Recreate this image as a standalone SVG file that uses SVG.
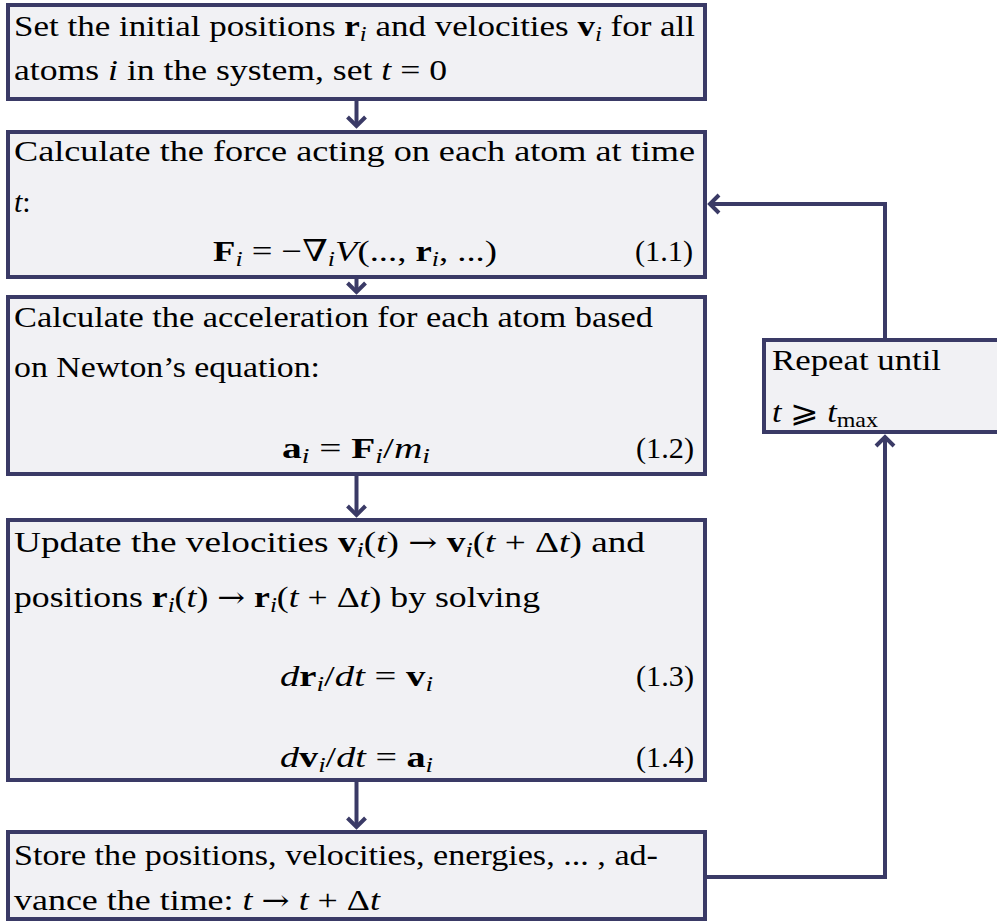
<svg xmlns="http://www.w3.org/2000/svg" width="997" height="922" viewBox="0 0 997 922">
<style>
.box{fill:#f1f1f4;stroke:#3a3a66;stroke-width:4}
.ln{fill:none;stroke:#3a3a66;stroke-width:4}
.ah{fill:none;stroke:#3a3a66;stroke-width:4;stroke-linejoin:miter}
text{font-family:"Liberation Serif","DejaVu Serif",serif;font-size:30px;fill:#000}
.b{font-weight:bold}
.i{font-style:italic}
.s{font-size:21px}
.ar{font-family:"DejaVu Serif",serif;font-size:28px}
</style>
<rect width="997" height="922" fill="#ffffff"/>
<g id="connectors">
<path class="ln" d="M356.5 101 V126"/>
<path class="ah" d="M347.5 117 L356.5 126 L365.5 117"/>
<path class="ln" d="M356.5 279 V292"/>
<path class="ah" d="M347.5 283 L356.5 292 L365.5 283"/>
<path class="ln" d="M356.5 476 V515"/>
<path class="ah" d="M347.5 506 L356.5 515 L365.5 506"/>
<path class="ln" d="M356.5 782 V827"/>
<path class="ah" d="M347.5 818 L356.5 827 L365.5 818"/>
<path class="ln" d="M707 877 H885 V437"/>
<path class="ah" d="M876 446 L885 437 L894 446"/>
<path class="ln" d="M885 338 V204 H710"/>
<path class="ah" d="M719 195 L710 204 L719 213"/>
</g>
<g id="n1">
<rect class="box" x="8" y="5" width="697" height="94"/>
<text x="14" y="36" textLength="681" lengthAdjust="spacingAndGlyphs">Set the initial positions <tspan class="b">r</tspan><tspan class="i s" dy="5">i</tspan><tspan dy="-5"> and velocities </tspan><tspan class="b">v</tspan><tspan class="i s" dy="5">i</tspan><tspan dy="-5"> for all</tspan></text>
<text x="14" y="80" textLength="433" lengthAdjust="spacingAndGlyphs">atoms <tspan class="i">i</tspan> in the system, set <tspan class="i">t</tspan> = 0</text>
</g>
<g id="n2">
<rect class="box" x="8" y="132" width="697" height="145"/>
<text x="14" y="161" textLength="681" lengthAdjust="spacingAndGlyphs">Calculate the force acting on each atom at time</text>
<text x="14" y="212"><tspan class="i">t</tspan>:</text>
<text x="213" y="261" textLength="284" lengthAdjust="spacingAndGlyphs"><tspan class="b">F</tspan><tspan class="i s" dy="5">i</tspan><tspan dy="-5"> = −∇</tspan><tspan class="i s" dy="5">i</tspan><tspan class="i" dy="-5">V</tspan>(..., <tspan class="b">r</tspan><tspan class="i s" dy="5">i</tspan><tspan dy="-5">, ...)</tspan></text>
<text x="635" y="261" textLength="58" lengthAdjust="spacingAndGlyphs">(1.1)</text>
</g>
<g id="n3">
<rect class="box" x="8" y="297" width="697" height="177"/>
<text x="14" y="327" textLength="639" lengthAdjust="spacingAndGlyphs">Calculate the acceleration for each atom based</text>
<text x="14" y="377" textLength="306" lengthAdjust="spacingAndGlyphs">on Newton’s equation:</text>
<text x="282" y="458" textLength="148" lengthAdjust="spacingAndGlyphs"><tspan class="b">a</tspan><tspan class="i s" dy="5">i</tspan><tspan dy="-5"> = </tspan><tspan class="b">F</tspan><tspan class="i s" dy="5">i</tspan><tspan dy="-5">/</tspan><tspan class="i">m</tspan><tspan class="i s" dy="5">i</tspan></text>
<text x="636" y="458" textLength="58" lengthAdjust="spacingAndGlyphs">(1.2)</text>
</g>
<g id="n4">
<rect class="box" x="8" y="520" width="697" height="260"/>
<text x="14" y="552" textLength="631" lengthAdjust="spacingAndGlyphs">Update the velocities <tspan class="b">v</tspan><tspan class="i s" dy="5">i</tspan><tspan dy="-5">(</tspan><tspan class="i">t</tspan>)  <tspan class="ar">→</tspan>  <tspan class="b">v</tspan><tspan class="i s" dy="5">i</tspan><tspan dy="-5">(</tspan><tspan class="i">t</tspan> + Δ<tspan class="i">t</tspan>) and</text>
<text x="14" y="607" textLength="526" lengthAdjust="spacingAndGlyphs">positions <tspan class="b">r</tspan><tspan class="i s" dy="5">i</tspan><tspan dy="-5">(</tspan><tspan class="i">t</tspan>) <tspan class="ar">→</tspan> <tspan class="b">r</tspan><tspan class="i s" dy="5">i</tspan><tspan dy="-5">(</tspan><tspan class="i">t</tspan> + Δ<tspan class="i">t</tspan>) by solving</text>
<text x="280" y="686" textLength="153" lengthAdjust="spacingAndGlyphs"><tspan class="i">d</tspan><tspan class="b">r</tspan><tspan class="i s" dy="5">i</tspan><tspan dy="-5">/</tspan><tspan class="i">dt</tspan> = <tspan class="b">v</tspan><tspan class="i s" dy="5">i</tspan></text>
<text x="636" y="686" textLength="58" lengthAdjust="spacingAndGlyphs">(1.3)</text>
<text x="280" y="767" textLength="153" lengthAdjust="spacingAndGlyphs"><tspan class="i">d</tspan><tspan class="b">v</tspan><tspan class="i s" dy="5">i</tspan><tspan dy="-5">/</tspan><tspan class="i">dt</tspan> = <tspan class="b">a</tspan><tspan class="i s" dy="5">i</tspan></text>
<text x="636" y="767" textLength="58" lengthAdjust="spacingAndGlyphs">(1.4)</text>
</g>
<g id="n5">
<rect class="box" x="8" y="832" width="697" height="87"/>
<text x="14" y="865" textLength="644" lengthAdjust="spacingAndGlyphs">Store the positions, velocities, energies, ... , ad-</text>
<text x="14" y="910" textLength="366" lengthAdjust="spacingAndGlyphs">vance the time: <tspan class="i">t</tspan> <tspan class="ar">→</tspan> <tspan class="i">t</tspan> + Δ<tspan class="i">t</tspan></text>
</g>
<g id="n6">
<rect class="box" x="764" y="340" width="250" height="92"/>
<text x="772" y="370" textLength="169" lengthAdjust="spacingAndGlyphs">Repeat until</text>
<text x="772" y="422" textLength="106" lengthAdjust="spacingAndGlyphs"><tspan class="i">t</tspan> ⩾ <tspan class="i">t</tspan><tspan class="s" dy="5">max</tspan></text>
</g>
</svg>
